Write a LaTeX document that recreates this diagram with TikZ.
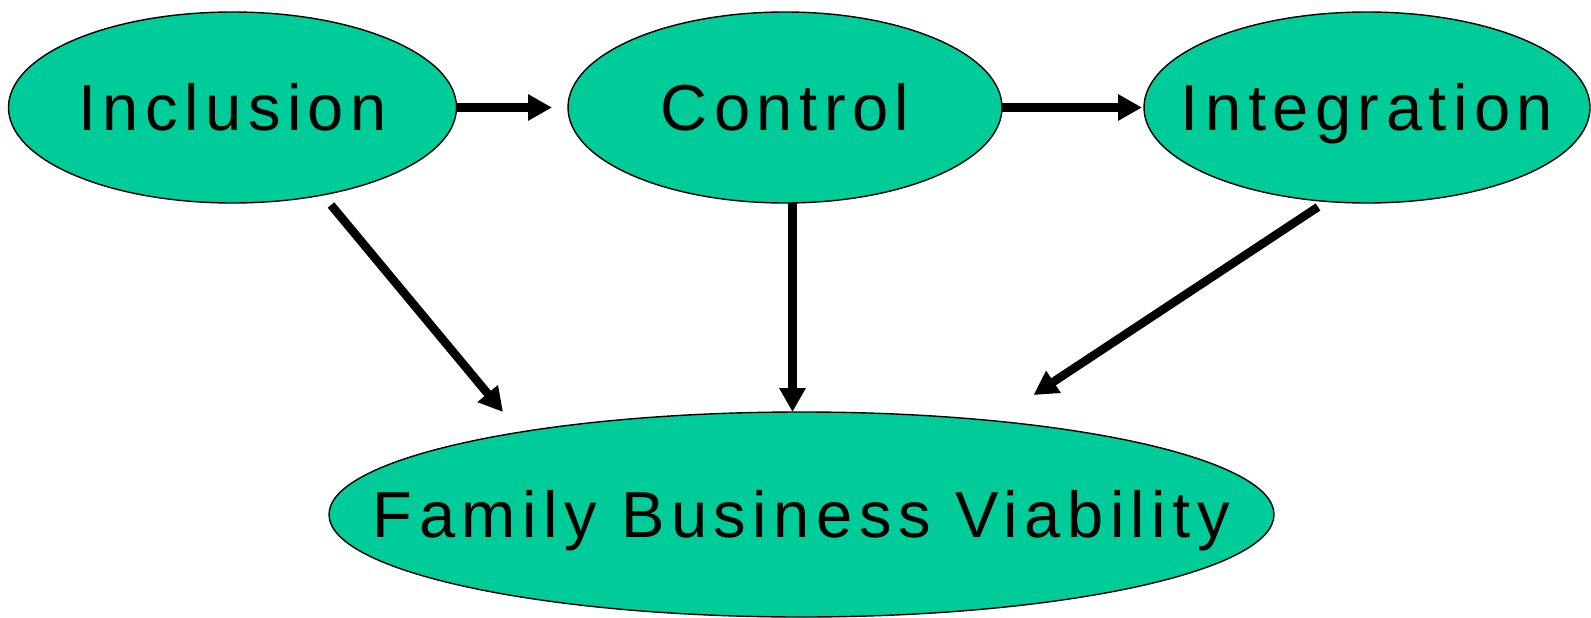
\documentclass[tikz,border=0pt]{standalone}
\usepackage{fontspec}
\setmainfont[LetterSpace=10]{Liberation Sans}
\usetikzlibrary{shapes.geometric,arrows.meta,calc}
\definecolor{bubblegreen}{RGB}{0,204,153}
\begin{document}
\begin{tikzpicture}[x=1pt,y=-1pt,
  bubble/.style={ellipse,draw=black,line width=1.4pt,fill=bubblegreen,inner sep=0pt,outer sep=0pt},
  label text/.style={inner sep=0pt,text height=46pt,text depth=0pt,
    font=\fontsize{65}{72}\selectfont},
  arr/.style={line width=8.5pt,-{Triangle[length=24pt,width=25pt]}}]
\useasboundingbox (0,0) rectangle (1591,618);

% the four ellipses
\node[bubble,minimum width=448pt,minimum height=191pt] (inc) at (232.5,107.5) {};
\node[bubble,minimum width=434pt,minimum height=191pt] (ctl) at (785,107.5) {};
\node[bubble,minimum width=446pt,minimum height=191pt] (itg) at (1367,107.5) {};
\node[bubble,minimum width=945pt,minimum height=205pt] (fbv) at (801.5,514.5) {};

% their captions
\node[label text] at (inc.center) {Inclusion};
\node[label text] at (ctl.center) {Control};
\node[label text] at (itg.center) {Integration};
\node[label text] at (fbv.center) {Family Business Viability};

% free ends of the slanted and vertical arrows
\coordinate (incS) at ($(inc.center)+(98.5,97.5)$);
\coordinate (incT) at ($(fbv.center)+(-298.5,-102.5)$);
\coordinate (ctlS) at ($(ctl.center)+(7.5,95.5)$);
\coordinate (ctlT) at ($(fbv.center)+(-9,-102.5)$);
\coordinate (itgS) at ($(itg.center)+(-49,99.5)$);
\coordinate (itgT) at ($(fbv.center)+(232,-119.5)$);

% connectors
\draw[arr,shorten >=16pt] (inc.east) -- (ctl.west);
\draw[arr,shorten >=2pt] (ctl.east) -- (itg.west);
\draw[arr] (incS) -- (incT);
\draw[arr] (ctlS) -- (ctlT);
\draw[arr] (itgS) -- (itgT);
\end{tikzpicture}
\end{document}
